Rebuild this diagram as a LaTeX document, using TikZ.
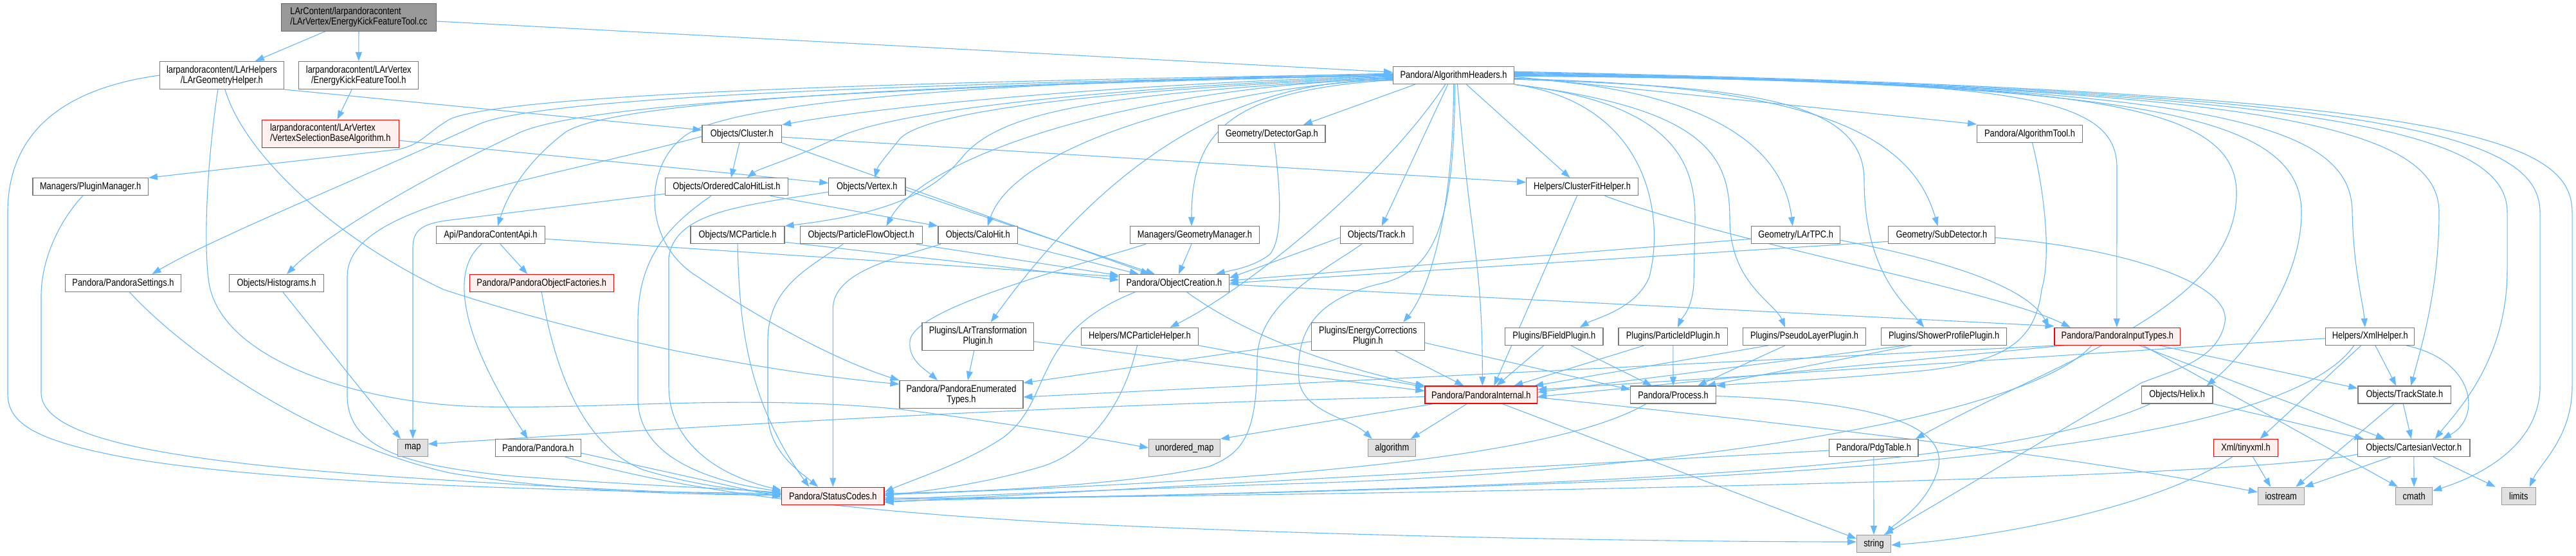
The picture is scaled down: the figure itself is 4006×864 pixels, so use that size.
\documentclass[tikz,border=0pt]{standalone}
\usepackage{fontspec}
\setmainfont{Liberation Sans}[FakeStretch=0.83]
\usetikzlibrary{arrows.meta}
\definecolor{eb}{HTML}{63B8FF}
\definecolor{ndb}{HTML}{787878}
\definecolor{redfill}{HTML}{FFF0F0}
\definecolor{sysfill}{HTML}{E0E0E0}
\definecolor{sysb}{HTML}{999999}
\definecolor{rootfill}{HTML}{999999}
\definecolor{rootb}{HTML}{666666}
\newcommand{\dxfont}{\fontsize{15.5pt}{16pt}\selectfont}
\pgfdeclarelayer{bg}
\pgfsetlayers{bg,main}
\tikzset{
  nd/.style={draw=ndb, fill=white, line width=1.1pt, inner sep=0pt, minimum height=27pt, font=\dxfont},
  two/.style={minimum height=43pt},
  rd/.style={draw=red, fill=redfill},
  sy/.style={draw=sysb, fill=sysfill},
  rt/.style={draw=rootb, fill=rootfill},
  ed/.style={draw=eb, line width=1.1pt, -{Triangle[length=14pt,width=10pt]}},
}
\begin{document}
\begin{tikzpicture}[x=1pt,y=-1pt]
\useasboundingbox (0,0) rectangle (4006,864);
% ---------------- nodes ----------------
\node[nd,rt,two,align=left,minimum width=241pt] (root) at (558,26.7) {LArContent/larpandoracontent\\/LArVertex/EnergyKickFeatureTool.cc};
\node[nd,two,align=center,minimum width=192.3pt] (geo) at (344.9,117) {larpandoracontent/LArHelpers\\/LArGeometryHelper.h};
\node[nd,two,align=center,minimum width=186.2pt] (ekh) at (557.8,117) {larpandoracontent/LArVertex\\/EnergyKickFeatureTool.h};
\node[nd,minimum width=188pt] (alg) at (2260.5,117.2) {Pandora/AlgorithmHeaders.h};
\node[nd,rd,two,align=left,minimum width=213.5pt] (vsb) at (513.8,207.8) {larpandoracontent/LArVertex\\/VertexSelectionBaseAlgorithm.h};
\node[nd,minimum width=179.4pt] (plg) at (140.7,290.3) {Managers/PluginManager.h};
\node[nd,minimum width=180.4pt] (pst) at (191.5,440) {Pandora/PandoraSettings.h};
\node[nd,minimum width=147.3pt] (his) at (430,440) {Objects/Histograms.h};
\node[nd,sy,minimum width=46.4pt] (map) at (642,696) {map};
\node[nd,minimum width=168.7pt] (api) at (763,365.3) {Api/PandoraContentApi.h};
\node[nd,minimum width=123.6pt] (clu) at (1153.8,208) {Objects/Cluster.h};
\node[nd,minimum width=191pt] (och) at (1129.9,290.3) {Objects/OrderedCaloHitList.h};
\node[nd,minimum width=119.2pt] (vtx) at (1348.4,290.3) {Objects/Vertex.h};
\node[nd,minimum width=146pt] (mcp) at (1147,365.3) {Objects/MCParticle.h};
\node[nd,minimum width=190.2pt] (pfo) at (1339.3,365.3) {Objects/ParticleFlowObject.h};
\node[nd,rd,minimum width=224.5pt] (pof) at (842.3,440) {Pandora/PandoraObjectFactories.h};
\node[nd,minimum width=132.5pt] (pan) at (836.8,696) {Pandora/Pandora.h};
\node[nd,rd,minimum width=159.4pt] (stc) at (1295.3,770.7) {Pandora/StatusCodes.h};
\node[nd,minimum width=166.4pt] (dgp) at (1977.8,208) {Geometry/DetectorGap.h};
\node[nd,minimum width=123.6pt] (cal) at (1520.8,365.3) {Objects/CaloHit.h};
\node[nd,minimum width=200.9pt] (gmg) at (1858,365.3) {Managers/GeometryManager.h};
\node[nd,minimum width=113.3pt] (trk) at (2140.7,365.3) {Objects/Track.h};
\node[nd,minimum width=170.6pt] (ocr) at (1825.9,440) {Pandora/ObjectCreation.h};
\node[nd,two,align=center,minimum width=173.6pt] (ltp) at (1520.8,522.7) {Plugins/LArTransformation\\Plugin.h};
\node[nd,minimum width=181.7pt] (mch) at (1772.5,522.8) {Helpers/MCParticleHelper.h};
\node[nd,two,align=center,minimum width=192pt] (pet) at (1495,613) {Pandora/PandoraEnumerated\\Types.h};
\node[nd,sy,minimum width=110.7pt] (umap) at (1842,696) {unordered\_map};
\node[nd,two,align=center,minimum width=176pt] (ecp) at (2127.3,522.7) {Plugins/EnergyCorrections\\Plugin.h};
\node[nd,minimum width=173.6pt] (cfh) at (2460.5,290.3) {Helpers/ClusterFitHelper.h};
\node[nd,minimum width=137.9pt] (tpc) at (2792.7,365.3) {Geometry/LArTPC.h};
\node[nd,rd,minimum width=174.6pt] (pin) at (2303.3,613.5) {Pandora/PandoraInternal.h};
\node[nd,sy,minimum width=74.1pt] (alo) at (2164.8,696) {algorithm};
\node[nd,minimum width=152.3pt] (bfp) at (2416.8,522.8) {Plugins/BFieldPlugin.h};
\node[nd,minimum width=169.6pt] (pid) at (2601.8,522.8) {Plugins/ParticleIdPlugin.h};
\node[nd,minimum width=191.5pt] (psl) at (2806,522.8) {Plugins/PseudoLayerPlugin.h};
\node[nd,minimum width=132.6pt] (pro) at (2602,613.5) {Pandora/Process.h};
\node[nd,minimum width=163.8pt] (atl) at (3156.5,208) {Pandora/AlgorithmTool.h};
\node[nd,minimum width=165.6pt] (sub) at (3019.4,365.3) {Geometry/SubDetector.h};
\node[nd,minimum width=194.6pt] (spp) at (3023.2,522.8) {Plugins/ShowerProfilePlugin.h};
\node[nd,rd,minimum width=195.6pt] (pit) at (3292.8,522.8) {Pandora/PandoraInputTypes.h};
\node[nd,minimum width=110.6pt] (hel) at (3385.7,613.5) {Objects/Helix.h};
\node[nd,minimum width=138.4pt] (pdg) at (2913.8,696) {Pandora/PdgTable.h};
\node[nd,sy,minimum width=53.1pt] (str) at (2914,845) {string};
\node[nd,rd,minimum width=99.3pt] (txm) at (3492.5,696) {Xml/tinyxml.h};
\node[nd,minimum width=138pt] (xml) at (3685.8,522.8) {Helpers/XmlHelper.h};
\node[nd,minimum width=144.7pt] (tst) at (3739.3,613.5) {Objects/TrackState.h};
\node[nd,minimum width=174.3pt] (cav) at (3753.8,696) {Objects/CartesianVector.h};
\node[nd,sy,minimum width=71.9pt] (ios) at (3547.2,770.7) {iostream};
\node[nd,sy,minimum width=57.2pt] (cma) at (3754.1,770.7) {cmath};
\node[nd,sy,minimum width=53.5pt] (lim) at (3916.8,770.7) {limits};
% ---------------- edges ----------------
\begin{pgfonlayer}{bg}
\fill[white] (0,0) rectangle (4006,864);
% root
\draw[ed] (root) -- (geo);
\draw[ed] (root) -- (ekh);
\draw[ed] (root) -- (alg);
\draw[ed] (ekh) -- (vsb);
\draw[ed] (vsb) -- (vtx);
% geometry helper
\draw[ed] (geo.south east) -- ([yshift=6pt]clu.west);
\draw[ed] (geo.west) .. controls (80,140) and (12,220) .. (12,330) -- (12,612) .. controls (12,660) and (60,685) .. (190,710) .. controls (420,752) and (900,764) .. ([yshift=4pt]stc.west);
\draw[ed] ([xshift=-6pt]geo.south) .. controls (322,250) and (316,380) .. (325,440) .. controls (345,560) and (560,628) .. (750,632) .. controls (950,636) and (1150,612) .. (1400,636) .. controls (1550,655) and (1700,680) .. (umap.west);
\draw[ed] ([xshift=5pt]geo.south) .. controls (380,240) and (520,370) .. (690,450) .. controls (950,535) and (1200,578) .. ([yshift=16pt]pet.west);
% algorithm headers, leftwards
\draw[ed] ([yshift=2pt]alg.west) .. controls (1300,128) and (780,150) .. (700,185) .. controls (665,205) and (655,225) .. (620,232) -- (plg.north east);
\draw[ed] ([yshift=1pt]alg.west) .. controls (1300,132) and (820,155) .. (740,195) .. controls (600,260) and (330,370) .. ([xshift=45pt]pst.north);
\draw[ed] (alg.west) .. controls (1300,136) and (880,165) .. (800,210) .. controls (650,280) and (500,370) .. ([xshift=16pt]his.north);
\draw[ed] (alg.west) .. controls (1400,130) and (950,160) .. (880,205) .. controls (820,250) and (790,300) .. ([xshift=11pt]api.north);
\draw[ed] ([yshift=3pt]alg.west) .. controls (1500,128) and (1120,160) .. (1060,215) .. controls (1000,265) and (1000,380) .. (1088,432) .. controls (1180,495) and (1300,560) .. (pet.north west);
\draw[ed] ([yshift=-1pt]alg.west) .. controls (1800,128) and (1400,160) .. (clu.north east);
\draw[ed] ([yshift=-2pt]alg.west) .. controls (1800,132) and (1400,165) .. (1300,215) .. controls (1230,248) and (1180,262) .. ([xshift=32pt]och.north);
\draw[ed] ([yshift=-3pt]alg.west) .. controls (1800,136) and (1450,165) .. (1400,215) .. controls (1380,240) and (1365,258) .. ([xshift=12pt]vtx.north);
\draw[ed] ([yshift=-4pt]alg.west) .. controls (1700,145) and (1560,175) .. (1500,240) .. controls (1460,290) and (1400,330) .. (mcp.north east);
\draw[ed] ([yshift=-5pt]alg.west) .. controls +(-400,12) and +(60,-110) .. ([xshift=39pt]pfo.north);
\draw[ed] ([yshift=-6pt]alg.west) .. controls +(-300,14) and +(40,-120) .. ([xshift=15pt]cal.north);
\draw[ed] ([yshift=-7pt]alg.west) .. controls +(-250,16) and +(0,-150) .. ([xshift=-5pt]gmg.north);
\draw[ed] ([yshift=-8pt]alg.west) .. controls (1900,118) and (1700,280) .. ([xshift=20pt]ltp.north);
\draw[ed] ([xshift=-60pt]alg.south) -- ([xshift=49pt]dgp.north);
\draw[ed] ([xshift=-9pt]alg.south) -- ([xshift=8pt]trk.north);
\draw[ed] ([xshift=-13pt]alg.south) .. controls +(-100,150) and +(120,-60) .. ([xshift=47pt]mch.north);
\draw[ed] (alg.south) .. controls +(0,200) and +(40,-50) .. ([xshift=55pt]ecp.north);
\draw[ed] ([xshift=2pt]alg.south) .. controls (2262,350) and (2230,420) .. (2150,440) .. controls (2040,465) and (2015,520) .. (2020,590) .. controls (2025,640) and (2100,650) .. ([xshift=-31pt]alo.north);
\draw[ed] ([xshift=6pt]alg.south) .. controls +(20,250) and +(0,-200) .. ([xshift=2pt]pin.north);
\draw[ed] ([xshift=20pt]alg.south) -- ([xshift=-19pt]cfh.north);
% algorithm headers, rightwards
\draw[ed] (alg.south east) .. controls (2560,160) and (2590,330) .. (2565,430) .. controls (2545,480) and (2480,495) .. ([xshift=40pt]bfp.north);
\draw[ed] (alg.south east) .. controls (2600,160) and (2636,250) .. (2636,340) -- (2634,440) .. controls (2632,480) and (2615,495) .. ([xshift=7pt]pid.north);
\draw[ed] (alg.south east) .. controls (2650,168) and (2690,240) .. (2690,340) .. controls (2690,440) and (2760,470) .. ([xshift=-30pt]psl.north);
\draw[ed] ([yshift=-6pt]alg.east) .. controls (2700,135) and (2899,150) .. (2899,280) .. controls (2899,420) and (2960,470) .. ([xshift=-31pt]spp.north);
\draw[ed] ([yshift=-4pt]alg.east) .. controls (2600,135) and (2770,200) .. ([xshift=-5pt]tpc.north);
\draw[ed] ([yshift=-5pt]alg.east) .. controls (2800,133) and (2970,200) .. ([xshift=-6pt]sub.north);
\draw[ed] ([yshift=-2pt]alg.east) -- ([yshift=15pt]atl.west);
\draw[ed] ([yshift=-1pt]alg.east) .. controls (3100,125) and (3292,140) .. (3292,260) -- ([xshift=-1pt]pit.north);
\draw[ed] (alg.east) .. controls (3200,128) and (3478,150) .. (3478,300) .. controls (3478,480) and (3200,560) .. ([xshift=65pt]pdg.north);
\draw[ed] ([yshift=1pt]alg.east) .. controls (3300,130) and (3579,170) .. (3579,330) .. controls (3579,450) and (3480,560) .. ([xshift=-10pt]hel.north east);
\draw[ed] ([yshift=2pt]alg.east) .. controls (3400,132) and (3658,180) .. (3658,330) .. controls (3660,420) and (3675,470) .. ([xshift=-8pt]xml.north);
\draw[ed] ([yshift=3pt]alg.east) .. controls (3500,135) and (3793,190) .. (3793,330) .. controls (3793,450) and (3765,540) .. ([xshift=10pt]tst.north);
\draw[ed] ([yshift=4pt]alg.east) .. controls (3600,138) and (3899,200) .. (3899,330) -- (3899,420) .. controls (3899,560) and (3820,640) .. ([xshift=33pt]cav.north);
\draw[ed] ([yshift=5pt]alg.east) .. controls (3700,140) and (3950,205) .. (3950,330) -- (3950,600) .. controls (3950,700) and (3840,745) .. ([yshift=8pt]cma.east);
\draw[ed] ([yshift=6pt]alg.east) .. controls (3800,142) and (4000,210) .. (4000,330) -- (4000,600) .. controls (4000,680) and (3950,720) .. ([xshift=17pt]lim.north);
% content api
\draw[ed] ([yshift=-6pt]api.east) -- ([yshift=10pt]ocr.west);
\draw[ed] ([xshift=15pt]api.south) -- ([xshift=-22pt]pof.north);
\draw[ed] ([xshift=-14pt]api.south) .. controls (700,420) and (715,520) .. ([xshift=-16pt]pan.north);
% left column to status codes / map
\draw[ed] ([xshift=-12pt]plg.south) .. controls (95,340) and (64,400) .. (64,460) -- (64,610) .. controls (64,680) and (250,715) .. (600,740) .. controls (900,760) and (1100,768) .. ([yshift=2pt]stc.west);
\draw[ed] ([xshift=10pt]pst.south) .. controls (300,560) and (500,690) .. (700,735) .. controls (900,768) and (1100,768) .. ([yshift=1pt]stc.west);
\draw[ed] ([xshift=10pt]his.south) -- ([xshift=-19pt]map.north);
\draw[ed] (pof.south) .. controls (860,560) and (900,690) .. (1000,730) .. controls (1100,760) and (1170,762) .. ([yshift=3pt]stc.west);
\draw[ed] ([yshift=-8pt]pan.east) -- ([yshift=-2pt]stc.west);
\draw[ed] ([xshift=42pt]pan.south) .. controls (1050,760) and (1300,795) .. (1700,815) .. controls (2200,838) and (2700,842) .. ([yshift=3pt]str.west);
% cluster
\draw[ed] ([xshift=-4pt]clu.south) -- ([xshift=7pt]och.north);
\draw[ed] (clu.south east) -- ([xshift=-38pt]ocr.north);
\draw[ed] ([yshift=-5pt]clu.east) -- ([yshift=7pt]cfh.west);
\draw[ed] ([yshift=-4pt]clu.west) .. controls (800,290) and (540,320) .. (540,430) -- (540,615) .. controls (540,700) and (640,725) .. (800,740) .. controls (1000,755) and (1150,760) .. ([yshift=5pt]stc.west);
% ordered calo hit list
\draw[ed] ([xshift=68pt]och.south) -- (cal.north west);
\draw[ed] ([yshift=-11pt]och.west) -- (700,342) .. controls (660,347) and (642,355) .. (642,385) -- (map.north);
\draw[ed] ([xshift=-24pt]och.south) .. controls (1040,350) and (992,400) .. (992,500) -- (992,620) .. controls (992,700) and (1080,745) .. ([yshift=7pt]stc.west);
% vertex
\draw[ed] ([yshift=-5pt]vtx.east) -- ([xshift=-30pt]ocr.north);
\draw[ed] ([yshift=-8pt]vtx.west) .. controls (1150,320) and (1050,330) .. (1040,400) -- (1040,600) .. controls (1040,690) and (1120,740) .. ([yshift=9pt]stc.west);
% mc particle, pfo, calo hit
\draw[ed] ([yshift=-11pt]mcp.east) -- ([yshift=5pt]ocr.west);
\draw[ed] (mcp.south) .. controls (1150,500) and (1160,620) .. ([xshift=-37pt]stc.north);
\draw[ed] ([xshift=-10pt]pfo.south east) -- ([yshift=12pt]ocr.west);
\draw[ed] ([xshift=-28pt]pfo.south) .. controls (1250,420) and (1194,450) .. (1194,530) -- (1194,640) .. controls (1194,700) and (1240,730) .. ([xshift=-23pt]stc.north);
\draw[ed] (cal.south east) -- ([xshift=-55pt]ocr.north);
\draw[ed] ([xshift=-58pt]cal.south) .. controls (1400,400) and (1295.3,420) .. (1295.3,480) -- (stc.north);
% geometry manager, detector gap, track
\draw[ed] ([xshift=-5pt]gmg.south) -- ([xshift=7pt]ocr.north);
\draw[ed] ([xshift=-76pt]gmg.south) .. controls (1650,420) and (1420,480) .. (1415,530) .. controls (1412,560) and (1440,575) .. ([xshift=-37pt]pet.north);
\draw[ed] ([xshift=4pt]dgp.south) .. controls (1992,300) and (1995,370) .. (1975,395) .. controls (1950,415) and (1915,420) .. ([xshift=65pt]ocr.north);
\draw[ed] ([yshift=-4pt]trk.west) -- ([yshift=8pt]ocr.east);
\draw[ed] ([xshift=-23pt]trk.south) .. controls (2060,420) and (1955,470) .. (1955,560) .. controls (1955,680) and (1930,705) .. (1880,725) .. controls (1750,755) and (1500,765) .. ([yshift=4pt]stc.east);
% LArTPC, subdetector, algorithm tool
\draw[ed] ([yshift=-6pt]tpc.west) -- ([yshift=4pt]ocr.east);
\draw[ed] ([yshift=-8pt]tpc.east) .. controls (3000,400) and (3150,440) .. ([xshift=-8pt]pit.north west);
\draw[ed] ([yshift=-10pt]sub.west) -- (ocr.east);
\draw[ed] ([yshift=-4pt]sub.east) .. controls (3300,385) and (3470,440) .. (3460,500) .. controls (3450,560) and (3380,575) .. (3330,595) -- ([xshift=16pt]str.north);
\draw[ed] ([xshift=4pt]atl.south) .. controls (3180,300) and (3190,400) .. (3175,450) .. controls (3165,530) and (3120,560) .. (3000,575) .. controls (2850,590) and (2720,595) .. (pro.north east);
% cluster fit helper
\draw[ed] ([xshift=-8pt]cfh.south) -- ([xshift=20pt]pin.north);
\draw[ed] ([xshift=35pt]cfh.south) .. controls (2700,380) and (3100,450) .. ([xshift=-73pt]pit.north);
% object creation
\draw[ed] ([xshift=-61pt]ocr.south) .. controls (1600,520) and (1640,620) .. (1560,680) .. controls (1500,720) and (1420,745) .. ([yshift=6pt]stc.east);
\draw[ed] ([yshift=-2pt]ocr.east) -- ([yshift=16pt]pit.west);
\draw[ed] ([xshift=20pt]ocr.south) .. controls (1950,530) and (2100,575) .. (pin.north west);
% plugins
\draw[ed] ([xshift=-6pt]ltp.south) -- ([xshift=10pt]pet.north);
\draw[ed] ([yshift=-8pt]ltp.east) -- ([yshift=6pt]pin.west);
\draw[ed] ([xshift=-4pt]mch.south) .. controls (1750,620) and (1700,700) .. (1620,725) .. controls (1520,755) and (1420,765) .. (stc.east);
\draw[ed] (mch.south east) -- ([yshift=-2pt]pin.north west);
\draw[ed] ([yshift=-8pt]ecp.west) -- ([yshift=18pt]pet.east);
\draw[ed] ([xshift=42pt]ecp.south) -- ([xshift=-27pt]pin.north);
\draw[ed] ([yshift=-10pt]ecp.east) -- ([yshift=8pt]pro.west);
\draw[ed] ([xshift=-16pt]bfp.south) -- ([xshift=24pt]pin.north);
\draw[ed] ([xshift=26pt]bfp.south) -- ([xshift=-33pt]pro.north);
\draw[ed] ([xshift=-45pt]pid.south) -- ([xshift=51pt]pin.north);
\draw[ed] (pid.south) -- (pro.north);
\draw[ed] ([xshift=-56pt]psl.south) -- ([xshift=-5pt]pin.north east);
\draw[ed] ([xshift=-30pt]psl.south) -- ([xshift=38pt]pro.north);
\draw[ed] ([xshift=-60pt]spp.south) -- ([yshift=4pt]pin.east);
\draw[ed] ([xshift=-50pt]spp.south) -- ([xshift=52pt]pro.north);
% pandora input types
\draw[ed] ([xshift=15pt]pit.south west) -- ([yshift=-3pt]pin.east);
\draw[ed] ([xshift=5pt]pit.south west) -- ([yshift=-4pt]pet.east);
\draw[ed] ([xshift=-40pt]pit.south) .. controls (3150,650) and (2600,735) .. (2000,752) .. controls (1700,762) and (1500,770) .. ([yshift=-6pt]stc.east);
\draw[ed] ([xshift=34pt]pit.south) -- ([xshift=-45pt]cav.north);
\draw[ed] ([xshift=65pt]pit.south) -- ([yshift=10pt]tst.west);
\draw[ed] ([xshift=40pt]pit.south) -- ([xshift=-25pt]cma.north);
% helix, pdg table, tinyxml
\draw[ed] (hel.south east) -- ([xshift=-78pt]cav.north);
\draw[ed] ([xshift=-42pt]hel.south) .. controls (3100,740) and (2300,760) .. ([yshift=-8pt]stc.east);
\draw[ed] (pdg.south) -- (str.north);
\draw[ed] ([yshift=-4pt]pdg.west) -- ([yshift=-10pt]stc.east);
\draw[ed] ([xshift=11pt]txm.south) -- ([xshift=-16pt]ios.north);
\draw[ed] ([xshift=-21pt]txm.south) .. controls (3350,790) and (3100,835) .. ([yshift=-2pt]str.east);
% xml helper
\draw[ed] ([xshift=-14pt]xml.south) -- ([xshift=22pt]txm.north);
\draw[ed] ([xshift=8pt]xml.south) -- ([xshift=-13pt]tst.north);
\draw[ed] ([xshift=56pt]xml.south) .. controls (3850,560) and (3860,650) .. ([xshift=44pt]cav.north);
\draw[ed] ([yshift=-3pt]xml.west) -- ([yshift=8pt]pin.east);
\draw[ed] ([xshift=-25pt]xml.south) .. controls (3560,680) and (3000,725) .. (2500,748) .. controls (2000,768) and (1600,775) .. ([yshift=-3pt]stc.east);
% track state, cartesian vector
\draw[ed] ([xshift=-16pt]tst.south) -- ([xshift=23pt]ios.north);
\draw[ed] ([xshift=-2pt]tst.south) -- ([xshift=-4pt]cav.north);
\draw[ed] ([xshift=-36pt]cav.south) -- (ios.north east);
\draw[ed] (cav.south) -- (cma.north);
\draw[ed] ([xshift=30pt]cav.south) -- ([xshift=-36pt]lim.north);
\draw[ed] ([yshift=-10pt]cav.west) .. controls (3450,750) and (2000,770) .. ([yshift=-5pt]stc.east);
% pandora internal
\draw[ed] ([xshift=-22pt]pin.south) -- ([xshift=29pt]alo.north);
\draw[ed] ([xshift=-74pt]pin.south) -- (umap.north east);
\draw[ed] ([yshift=-3pt]pin.west) .. controls (1700,628) and (1200,655) .. ([yshift=6pt]map.east);
\draw[ed] ([xshift=33pt]pin.south) -- ([yshift=8pt]str.west);
\draw[ed] ([yshift=-4pt]pin.east) .. controls (2800,660) and (3200,705) .. ([yshift=6pt]ios.west);
% process
\draw[ed] ([xshift=-42pt]pro.south) .. controls (2400,720) and (1900,750) .. ([yshift=2pt]stc.east);
\draw[ed] ([yshift=-2pt]pro.east) .. controls (2950,625) and (3040,670) .. (3010,740) .. controls (2990,790) and (2945,815) .. ([xshift=20pt]str.north);
\end{pgfonlayer}
\end{tikzpicture}
\end{document}
